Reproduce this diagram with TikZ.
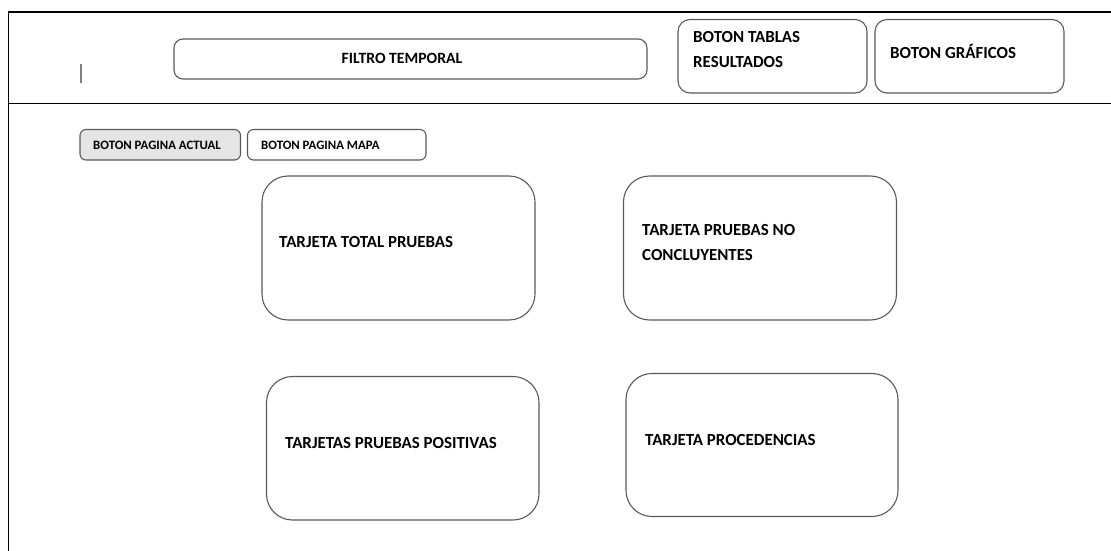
\documentclass[tikz,border=0pt]{standalone}
\usepackage{fontspec}
\setmainfont{Carlito}
\begin{document}
\begin{tikzpicture}[x=1pt,y=-1pt,
  frame/.style={draw=black,line width=1.4pt},
  boxline/.style={draw=black!65,line width=1.1pt},
  card/.style={boxline,rounded corners=26pt},
  topbtn/.style={boxline,rounded corners=12pt},
  smallbtn/.style={boxline,rounded corners=6pt},
  bigtxt/.style={anchor=west,inner sep=0pt,font=\fontsize{16.9}{25.5}\selectfont\bfseries,align=left},
  smtxt/.style={anchor=west,inner sep=0pt,font=\fontsize{12.8}{15}\selectfont\bfseries}]
\useasboundingbox (0,0) rectangle (1111,551);
% frame
\coordinate (tl) at (8.5,12);
\coordinate (tr) at (1111,12);
\coordinate (ml) at (8.5,103.5);
\coordinate (mr) at (1111,103.5);
\coordinate (bl) at (8.5,551);
\draw[frame] (tr) -- (tl) -- (bl);
\draw[frame] (ml) -- (mr);
% cursor
\coordinate (c1) at (81,64);
\coordinate (c2) at (81,83);
\draw[black!50,line width=1.5pt] (c1) -- (c2);
% top controls
\draw[topbtn,rounded corners=9pt] (174,39) rectangle (647,79);
\node[anchor=center,inner sep=0pt,font=\fontsize{15.7}{18}\selectfont\bfseries] (filtro) at (402,58) {FILTRO TEMPORAL};
\draw[topbtn] (678,19.5) rectangle (867,93);
\node[bigtxt] (tablas) at (693,49.5) {BOTON TABLAS\\RESULTADOS};
\draw[topbtn] (875,19.5) rectangle (1064,93);
\node[bigtxt] (graficos) at (890,51) {BOTON GRÁFICOS};
% page buttons
\draw[smallbtn,fill=black!10] (80,129.5) rectangle (240.5,160);
\node[smtxt] (actual) at (93,145) {BOTON PAGINA ACTUAL};
\draw[smallbtn] (247.5,129.5) rectangle (426,160);
\node[smtxt] (mapa) at (261,145) {BOTON PAGINA MAPA};
% cards
\draw[card] (262,176) rectangle (535,320);
\node[bigtxt] (total) at (279,242) {TARJETA TOTAL PRUEBAS};
\draw[card] (623.5,176) rectangle (896.5,320);
\node[bigtxt] (noconc) at (642,242.5) {TARJETA PRUEBAS NO\\CONCLUYENTES};
\draw[card] (266.5,376.5) rectangle (539,520);
\node[bigtxt] (positivas) at (285,443) {TARJETAS PRUEBAS POSITIVAS};
\draw[card] (626,373.5) rectangle (898,516.5);
\node[bigtxt] (proced) at (645,440) {TARJETA PROCEDENCIAS};
\end{tikzpicture}
\end{document}
